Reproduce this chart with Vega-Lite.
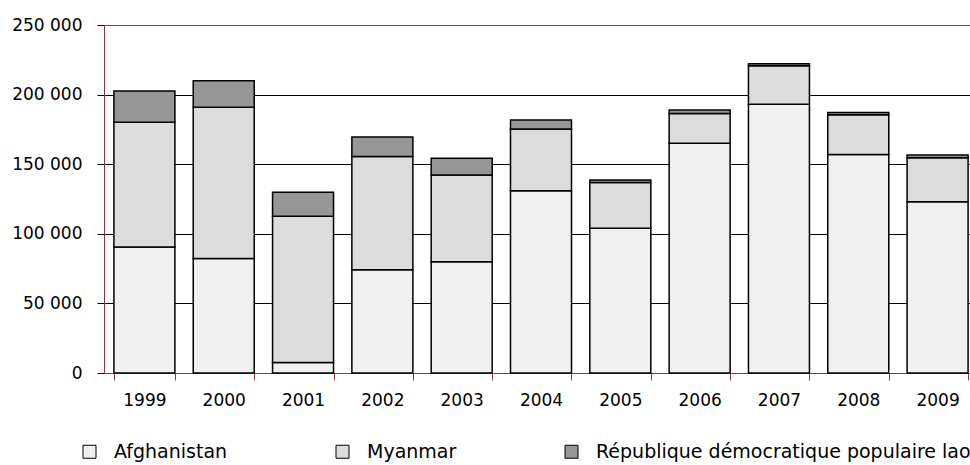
{
  "$schema": "https://vega.github.io/schema/vega-lite/v6.json",
  "autosize": {"type": "none"},
  "width": 866,
  "height": 348,
  "padding": {"left": 104, "top": 25, "right": 0, "bottom": 92},
  "background": "white",
  "config": {
    "view": {"stroke": null},
    "locale": {"number": {"decimal": ",", "thousands": " ", "grouping": [3], "currency": ["", " €"]}},
    "font": "DejaVu Sans"
  },
  "data": {
    "values": [
      {"year": "1999", "country": "Afghanistan", "area": 90583},
      {"year": "2000", "country": "Afghanistan", "area": 82171},
      {"year": "2001", "country": "Afghanistan", "area": 7606},
      {"year": "2002", "country": "Afghanistan", "area": 74100},
      {"year": "2003", "country": "Afghanistan", "area": 80000},
      {"year": "2004", "country": "Afghanistan", "area": 131000},
      {"year": "2005", "country": "Afghanistan", "area": 104000},
      {"year": "2006", "country": "Afghanistan", "area": 165000},
      {"year": "2007", "country": "Afghanistan", "area": 193000},
      {"year": "2008", "country": "Afghanistan", "area": 157000},
      {"year": "2009", "country": "Afghanistan", "area": 123000},
      {"year": "1999", "country": "Myanmar", "area": 89500},
      {"year": "2000", "country": "Myanmar", "area": 108700},
      {"year": "2001", "country": "Myanmar", "area": 105000},
      {"year": "2002", "country": "Myanmar", "area": 81400},
      {"year": "2003", "country": "Myanmar", "area": 62200},
      {"year": "2004", "country": "Myanmar", "area": 44200},
      {"year": "2005", "country": "Myanmar", "area": 32800},
      {"year": "2006", "country": "Myanmar", "area": 21500},
      {"year": "2007", "country": "Myanmar", "area": 27700},
      {"year": "2008", "country": "Myanmar", "area": 28500},
      {"year": "2009", "country": "Myanmar", "area": 31700},
      {"year": "1999", "country": "République démocratique populaire lao", "area": 22543},
      {"year": "2000", "country": "République démocratique populaire lao", "area": 19052},
      {"year": "2001", "country": "République démocratique populaire lao", "area": 17255},
      {"year": "2002", "country": "République démocratique populaire lao", "area": 14000},
      {"year": "2003", "country": "République démocratique populaire lao", "area": 12000},
      {"year": "2004", "country": "République démocratique populaire lao", "area": 6600},
      {"year": "2005", "country": "République démocratique populaire lao", "area": 1800},
      {"year": "2006", "country": "République démocratique populaire lao", "area": 2500},
      {"year": "2007", "country": "République démocratique populaire lao", "area": 1500},
      {"year": "2008", "country": "République démocratique populaire lao", "area": 1600},
      {"year": "2009", "country": "République démocratique populaire lao", "area": 1900}
    ]
  },
  "mark": {"type": "bar", "stroke": "black", "strokeWidth": 1.5},
  "encoding": {
    "x": {
      "field": "year", "type": "ordinal",
      "scale": {"range": [0, 874], "paddingInner": 0.231, "paddingOuter": 0.125},
      "axis": {
        "title": null, "labelAngle": 0, "labelFont": "DejaVu Sans", "labelFontSize": 17, "labelColor": "black",
        "domainColor": "#8b3a3a", "tickColor": "#8b3a3a", "tickSize": 7, "tickBand": "extent",
        "labelPadding": 12, "grid": false
      }
    },
    "y": {
      "field": "area", "type": "quantitative", "aggregate": "sum",
      "scale": {"domain": [0, 250000], "nice": false},
      "axis": {
        "title": null, "values": [0, 50000, 100000, 150000, 200000, 250000], "format": ",d",
        "labelFont": "DejaVu Sans", "labelFontSize": 17, "labelColor": "black", "labelPadding": 15,
        "domainColor": "#8b3a3a", "tickColor": "black", "tickSize": 7,
        "grid": true, "gridColor": {"condition": {"test": "datum.value == 250000", "value": "#8b3a3a"}, "value": "black"}, "gridOpacity": 1, "gridWidth": 1
      }
    },
    "fill": {
      "field": "country", "type": "nominal",
      "scale": {"domain": ["Afghanistan", "Myanmar", "République démocratique populaire lao"], "range": ["#f0f0f0", "#dcdcdc", "#969696"]},
      "legend": {
        "title": null, "orient": "none", "direction": "horizontal", "legendX": -24, "legendY": 417,
        "symbolType": "square", "symbolSize": 169, "symbolStrokeColor": "black", "symbolStrokeWidth": 1,
        "labelFont": "DejaVu Sans", "labelFontSize": 19, "labelColor": "black", "labelOffset": 15, "labelLimit": 500,
        "columnPadding": 105
      }
    },
    "order": {"field": "country", "sort": "ascending"}
  }
}
